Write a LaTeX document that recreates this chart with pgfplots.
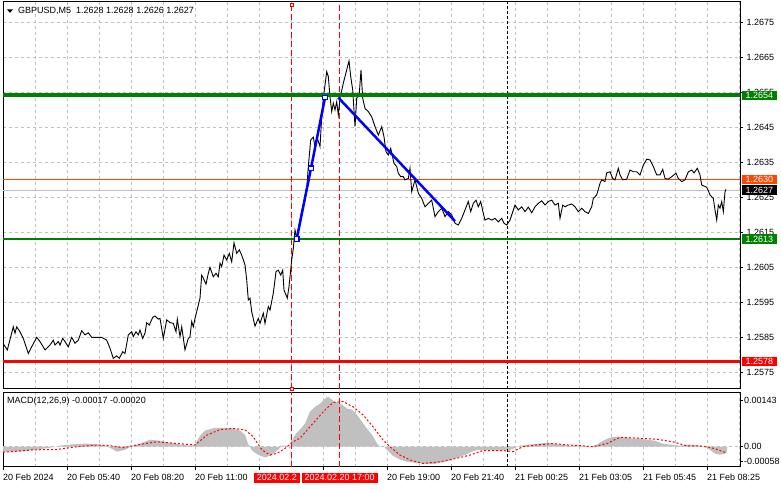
\documentclass[border=0pt]{standalone}
\usepackage{pgfplots}
\pgfplotsset{compat=1.18}
\usepackage{fontspec}
\setmainfont{Liberation Sans}
\definecolor{mtgreen}{RGB}{0,128,0}
\definecolor{mtred}{RGB}{255,0,0}
\definecolor{mtorange}{RGB}{255,69,0}
\definecolor{mtsilver}{RGB}{192,192,192}
\definecolor{mtblue}{RGB}{0,0,255}
\begin{document}
\begin{tikzpicture}[x=1bp,y=1bp,font=\fontsize{9bp}{10bp}\selectfont]
\path[use as bounding box, fill=white] (0,0) rectangle (781,489);

% ---------------- main price panel ----------------
\begin{axis}[at={(3bp,100bp)}, anchor=south west, scale only axis,
  width=737bp, height=387bp,
  xmin=3, xmax=740, ymin=1.2570143, ymax=1.2680714,
  xtick={3,35,...,739}, xticklabels={}, xtick style={draw=none},
  ytick={1.2575,1.2585,1.2595,1.2605,1.2615,1.2625,1.2635,1.2645,1.2655,1.2665,1.2675},
  yticklabels={}, ytick pos=right, tick align=outside, major tick length=3bp,
  ytick style={line width=0.8bp, black},
  scaled y ticks=false, scaled x ticks=false,
  grid=major, grid style={mtsilver, line width=0.8bp, dash pattern=on 3bp off 3bp},
  axis line style={line width=1bp}, clip=false]
% bid / ask lines
\addplot[mtsilver, line width=0.8bp] coordinates {(3,1.2627) (740,1.2627)};
\addplot[mtorange, line width=0.8bp] coordinates {(3,1.2630) (740,1.2630)};
% vertical event lines
\addplot[mtred, line width=1bp, dash pattern=on 6bp off 3bp] coordinates {(291.7,1.2570143) (291.7,1.2680714)};
\addplot[mtred, line width=1bp, dash pattern=on 6bp off 3bp] coordinates {(339.3,1.2570143) (339.3,1.2680714)};
\addplot[black, line width=0.9bp, dash pattern=on 3bp off 2bp] coordinates {(507.7,1.2570143) (507.7,1.2680714)};
% price
\addplot[black, line width=0.9bp] coordinates {
(3,1.25832) (7.3,1.25813) (13.3,1.25879) (15,1.25861) (16.7,1.25879) (20,1.25865) (23.3,1.25846) (28.3,1.25803) (31.7,1.25822) (36.7,1.25849) (40,1.25837) (45,1.25813) (50,1.25827) (53.3,1.25841) (55,1.25827) (58.3,1.25837) (60,1.25827) (62.7,1.25846) (65,1.25837) (68.3,1.25822) (71.7,1.25849) (75,1.25832) (78.3,1.25841) (81.7,1.25868) (85,1.25856) (88.3,1.25862) (91.7,1.25849) (101.7,1.25849) (106.7,1.25841) (110,1.25818) (113.3,1.25789) (116.7,1.25796) (119.3,1.25789) (122.7,1.25808) (125,1.25803) (128.3,1.25856) (131.7,1.25865) (133.3,1.25851) (136,1.25865) (138.3,1.25856) (140,1.25870) (142.7,1.25846) (145,1.25861) (146.7,1.25891) (149.3,1.25884) (152.7,1.25906) (155,1.25910) (158.3,1.25901) (160,1.25903) (163.3,1.25846) (166.7,1.25899) (170,1.25891) (173.3,1.25889) (176,1.25865) (177.3,1.25901) (180,1.25851) (181.7,1.25879) (185,1.25813) (188.3,1.25846) (190,1.25851) (191.7,1.25894) (193.3,1.25879) (195,1.25903) (196.7,1.25922) (200,1.25961)
(201.7,1.26027) (203.3,1.26018) (206,1.26001) (208.3,1.26032) (210,1.26049) (213.3,1.26022) (216,1.26032) (218.3,1.26022) (220,1.26061) (221.7,1.26051) (224,1.26084) (226.7,1.26070) (229.3,1.26089) (231.7,1.26065) (234,1.26119) (236.7,1.26089) (239.3,1.26099) (241.7,1.26084) (245,1.26056) (246.7,1.26013) (248.3,1.25956) (250,1.25961) (251.7,1.25922) (255,1.25881) (258.3,1.25903) (260,1.25889) (263.3,1.25918) (265,1.25889) (268.3,1.25937) (270,1.25927) (273.3,1.25975) (276,1.26037) (278.3,1.26041) (280.7,1.26027) (282.7,1.26041) (284,1.25984) (287.3,1.25961) (289,1.25994) (291.7,1.26070) (293.3,1.26103) (295,1.26156) (296.7,1.26132)
(299,1.26170) (302,1.26213) (305,1.26251) (307,1.26284) (308.3,1.26337) (310.7,1.26413) (313.3,1.26421) (315,1.26394) (317.3,1.26418) (320,1.26394) (321.7,1.26479) (323.3,1.26532) (326.7,1.26608) (328.3,1.26594) (330,1.26537) (331.7,1.26494) (333.3,1.26518) (335,1.26499) (336.7,1.26522) (338.3,1.26484) (340,1.26532) (343.3,1.26575) (346.7,1.26613) (349,1.26639) (350.7,1.26594) (352.7,1.26556) (355,1.26451) (356.7,1.26532) (359.3,1.26546) (361,1.26613) (362.7,1.26532) (365,1.26503) (368.3,1.26494) (371.7,1.26479) (375,1.26451) (378.3,1.26427) (381.7,1.26451) (384,1.26422) (386,1.26379) (388.3,1.26370) (390.7,1.26389) (394,1.26346) (396.7,1.26337) (398.3,1.26318) (400.7,1.26308) (403.3,1.26308) (405,1.26299) (408.3,1.26303) (410,1.26332) (411.7,1.26265) (415,1.26299) (418.3,1.26261) (421.7,1.26246) (425,1.26222) (428.3,1.26232) (431.7,1.26241) (435,1.26194) (438.3,1.26208) (441.7,1.26218) (445,1.26194) (448.3,1.26208) (451.7,1.26199) (455,1.26175) (458.3,1.26170) (461.7,1.26189) (465,1.26213) (468.3,1.26237) (470.7,1.26208) (473.3,1.26232) (476,1.26241) (478.3,1.26222) (480.7,1.26237) (483.3,1.26203) (485,1.26184) (488.3,1.26189) (491.7,1.26184) (495,1.26189) (498.3,1.26179) (501.7,1.26189) (504,1.26175) (506.7,1.26170) (510,1.26184) (515,1.26227) (518.3,1.26213) (521.7,1.26222) (525,1.26208) (528.3,1.26221) (531.7,1.26205) (535,1.26222) (538.3,1.26232) (541.7,1.26239) (545,1.26227) (548.3,1.26237) (551.7,1.26241) (555,1.26227) (558.3,1.26232) (560,1.26189) (562.7,1.26227) (565,1.26222) (568.3,1.26227) (571.7,1.26230) (575,1.26222) (578.3,1.26208) (581.7,1.26218) (585,1.26208) (588.3,1.26203) (591.7,1.26222) (593.3,1.26246) (596.7,1.26256) (600,1.26289) (601.7,1.26299) (605,1.26294) (606.7,1.26319) (610,1.26322) (612.7,1.26303) (615,1.26299) (618.3,1.26332) (620,1.26313) (622.7,1.26299) (626.7,1.26301) (630,1.26327) (633.3,1.26322) (636.7,1.26322) (640,1.26313) (643.3,1.26341) (646.7,1.26358) (650,1.26356) (653.3,1.26337) (656.7,1.26313) (660,1.26313) (662.7,1.26329) (665,1.26303) (668.3,1.26301) (671.7,1.26308) (676,1.26318) (678.3,1.26303) (681.7,1.26294) (685,1.26299) (688.3,1.26322) (691.7,1.26327) (694,1.26319) (697.3,1.26332) (700,1.26313) (701.7,1.26284) (706.7,1.26278) (710,1.26256) (713.3,1.26246) (715,1.26213) (716.7,1.26184) (718.3,1.26227) (720,1.26218) (721.7,1.26237) (723.3,1.26208) (725,1.26265) (726,1.26272)};
% levels
\addplot[mtgreen, line width=4bp] coordinates {(3,1.2654) (740,1.2654)};
\addplot[mtgreen, line width=2.4bp] coordinates {(3,1.2613) (740,1.2613)};
\addplot[mtred, line width=2.6bp] coordinates {(3,1.2578) (740,1.2578)};
% trend lines
\addplot[mtblue, line width=2.5bp, mark=square*, mark size=2.2bp,
  mark options={fill=white, draw=mtblue, line width=1.2bp}]
  coordinates {(296.7,1.2613) (311,1.26332) (325,1.26534)};
\addplot[mtblue, line width=2.5bp] coordinates {(338.3,1.26534) (455,1.26181)};
% anchors of the event line
\addplot[only marks, mark=square*, mark size=1.6bp, mark options={fill=white, draw=mtred, line width=0.8bp}]
  coordinates {(291.7,1.267986) (291.7,1.2570143)};
\end{axis}

% ---------------- MACD panel ----------------
\begin{axis}[at={(3bp,22bp)}, anchor=south west, scale only axis,
  width=737bp, height=74.5bp,
  xmin=3, xmax=740, ymin=-0.00058, ymax=0.0015486,
  xtick={3,67,...,707}, minor xtick={35,99,...,739}, xticklabels={},
  xmajorgrids, xminorgrids,
  grid style={mtsilver, line width=0.8bp, dash pattern=on 3bp off 3bp},
  minor grid style={mtsilver, line width=0.8bp, dash pattern=on 3bp off 3bp},
  xtick pos=bottom, ytick pos=right, tick align=outside,
  major tick length=3bp, minor tick length=0bp,
  tick style={line width=0.8bp, black},
  ytick={-0.000409,0,0.001334}, yticklabels={},
  scaled y ticks=false, scaled x ticks=false,
  axis line style={line width=1bp}, clip=false]
\addplot[fill=mtsilver, draw=none] coordinates {
(3,-0.00014) (20,-0.00014) (35,-0.00009) (50,-0.00003) (60,0.00003) (70,0.00006) (85,0.00009) (100,0.00006) (110,-0.00003) (117,-0.00014) (125,-0.00009) (133,0.00003) (140,0.00009) (150,0.00020) (160,0.00017) (170,0.00011) (180,0.00006) (190,0.00003) (195,0.00006) (200,0.00031) (205,0.00046) (215,0.00054) (230,0.00054) (240,0.00046) (245,0.00034) (248,0.00009) (252,-0.00011) (258,-0.00023) (265,-0.00031) (272,-0.00023) (278,-0.00009) (282,0.00003) (287,0.00003) (290,-0.00006) (293,0.00023) (295,0.00034) (300,0.00049) (305,0.00066) (310,0.00100) (315,0.00114) (320,0.00123) (325,0.00137) (328,0.00143) (332,0.00134) (337,0.00126) (342,0.00120) (347,0.00109) (352,0.00106) (357,0.00091) (362,0.00071) (367,0.00051) (372,0.00034) (377,0.00009) (380,0) (383,0.00003) (387,-0.00009) (393,-0.00026) (400,-0.00037) (407,-0.00043) (415,-0.00046) (425,-0.00049) (435,-0.00049) (445,-0.00043) (455,-0.00034) (465,-0.00023) (472,-0.00014) (478,-0.00009) (483,-0.00009) (493,-0.00011) (503,-0.00011) (510,-0.00009) (515,-0.00003) (520,0.00003) (530,0.00006) (540,0.00009) (547,0.00011) (553,0.00009) (560,0.00006) (570,0.00003) (580,0.00003) (590,0) (597,0.00006) (603,0.00017) (610,0.00026) (617,0.00029) (625,0.00026) (633,0.00023) (640,0.00023) (647,0.00020) (655,0.00017) (662,0.00009) (670,0.00006) (680,0.00003) (690,0.00006) (700,0.00003) (705,0) (710,-0.00009) (715,-0.00020) (720,-0.00023) (725,-0.00020) (727,-0.00014)} \closedcycle;
\addplot[mtsilver, line width=0.8bp, dash pattern=on 3bp off 3bp] coordinates {(3,0) (740,0)};
\addplot[mtred, line width=1bp, dash pattern=on 2bp off 2bp] coordinates {
(3,-0.00016) (33,-0.00009) (57,-0.00008) (77,0) (97,0.00005) (110,0.00003) (123,-0.00003) (137,0.00005) (157,0.00014) (177,0.00009) (195,0.00005) (207,0.00033) (220,0.00049) (233,0.00052) (245,0.00048) (253,0.00029) (262,-0.00009) (270,-0.00024) (277,-0.00019) (285,-0.00005) (293,0.00014) (300,0.00024) (313,0.00067) (325,0.00105) (333,0.00126) (343,0.00129) (353,0.00114) (363,0.00091) (373,0.00057) (383,0.00019) (390,0) (400,-0.00024) (410,-0.00038) (423,-0.00048) (440,-0.00043) (457,-0.00033) (470,-0.00024) (483,-0.00011) (503,-0.00011) (513,-0.00014) (523,0) (537,0.00005) (553,0.00009) (567,0.00005) (580,0.00003) (593,0) (607,0.00009) (620,0.00027) (640,0.00024) (657,0.00021) (673,0.00014) (687,0.00002) (700,0.00002) (710,-0.00002) (717,-0.00008) (723,-0.00014) (727,-0.00019)};
\addplot[mtred, line width=1bp, dash pattern=on 6bp off 3bp] coordinates {(291.7,-0.00058) (291.7,0.0015486)};
\addplot[mtred, line width=1bp, dash pattern=on 6bp off 3bp] coordinates {(339.3,-0.00058) (339.3,0.0015486)};
\addplot[black, line width=0.9bp, dash pattern=on 3bp off 2bp] coordinates {(507.7,-0.00058) (507.7,0.0015486)};
\end{axis}

% ---------------- texts ----------------
\fill (7,479.6) -- (13,479.6) -- (10,476.2) -- cycle;
\node[anchor=west, inner sep=0pt] at (18,478) {GBPUSD,M5\ \ 1.2628 1.2628 1.2626 1.2627};
\node[anchor=west, inner sep=0pt] at (7,88) {MACD(12,26,9) -0.00017 -0.00020};

% right price scale
\foreach \yy/\lab in {467/1.2675,432/1.2665,397/1.2655,362/1.2645,327/1.2635,292/1.2625,257/1.2615,222/1.2605,187/1.2595,152/1.2585,117/1.2575}
  \node[anchor=west, inner sep=0pt] at (746.5,\yy) {\lab};
\tikzset{pbox/.style={anchor=west, text=white, inner xsep=0pt, inner ysep=0pt, minimum width=35bp, minimum height=9.5bp}}
\node[pbox, fill=mtgreen] at (741.7,393.5) {1.2654};
\node[pbox, fill=mtorange] at (741.7,309.5) {1.2630};
\node[pbox, fill=black] at (741.7,299) {1.2627};
\node[pbox, fill=mtgreen] at (741.7,250) {1.2613};
\node[pbox, fill=mtred] at (741.7,127.5) {1.2578};

% MACD scale
\node[anchor=west, inner sep=0pt] at (744,89) {0.00143};
\node[anchor=west, inner sep=0pt] at (744,42.3) {0.00};
\node[anchor=west, inner sep=0pt] at (744,28) {-0.00058};

% time scale
\foreach \xx/\lab in {3/20 Feb 2024,67/20 Feb 05:40,131/20 Feb 08:20,195/20 Feb 11:00,387/20 Feb 19:00,451/20 Feb 21:40,515/21 Feb 00:25,579/21 Feb 03:05,643/21 Feb 05:45,707/21 Feb 08:25}
  \node[anchor=west, inner sep=0pt] at (\xx,11.3) {\lab};
\node[anchor=west, fill=mtred, text=white, inner xsep=3bp, inner ysep=0pt, minimum height=10bp] at (253.7,11.3) {2024.02.2};
\node[anchor=west, fill=mtred, text=white, inner xsep=3bp, inner ysep=0pt, minimum height=10bp] at (301.3,11.3) {2024.02.20 17:00};
\end{tikzpicture}
\end{document}
